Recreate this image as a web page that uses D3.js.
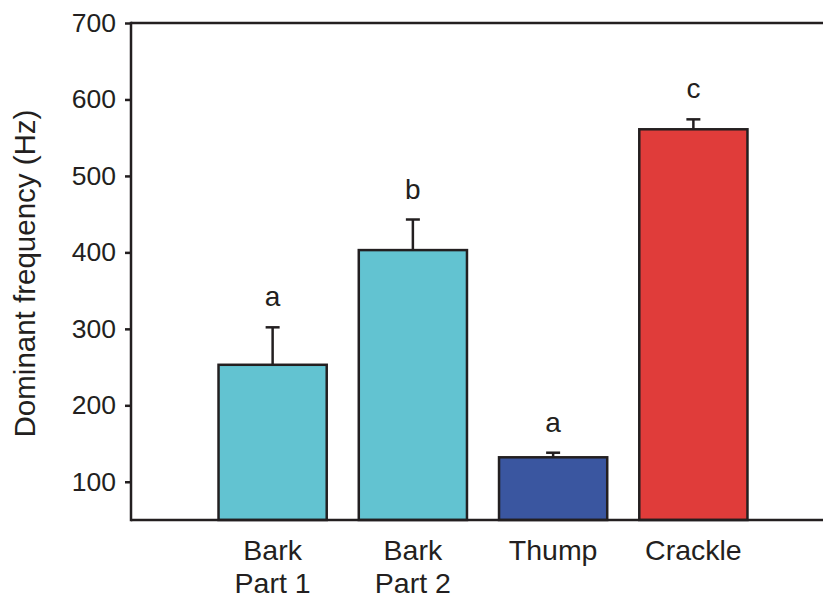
<!DOCTYPE html>
<html>
<head>
<meta charset="utf-8">
<script src="https://cdn.jsdelivr.net/npm/d3@7/dist/d3.min.js"></script>
<style>
  html, body { margin: 0; padding: 0; background: #fff; }
  text { font-family: "Liberation Sans", Arial, sans-serif; fill: #231f20; }
</style>
</head>
<body>
<svg id="chart" width="823" height="600"></svg>
<script>
const categories = ["Bark|Part 1", "Bark|Part 2", "Thump", "Crackle"];
const means = [253, 403, 132, 561];
const errorsUpper = [302, 443, 138, 574];
const groupLetters = ["a", "b", "a", "c"];
const barColors = ["#62c3d1", "#62c3d1", "#3a56a0", "#e03c3a"];
const yTicks = [100, 200, 300, 400, 500, 600, 700];

const svg = d3.select("#chart");
const mLeft = 131, mRight = 823, mTop = 23, mBottom = 520;
const ink = "#231f20";

const y = d3.scaleLinear().domain([50, 700]).range([mBottom, mTop]);
const x = d3.scaleBand().domain(categories).range([202.5, 763.5])
  .paddingInner(0.2286).paddingOuter(0.1143);

// Bars
svg.selectAll("rect.bar").data(categories).enter().append("rect")
  .attr("class", "bar")
  .attr("x", d => x(d))
  .attr("width", x.bandwidth())
  .attr("y", (d, i) => y(means[i]))
  .attr("height", (d, i) => y(50) - y(means[i]))
  .attr("fill", (d, i) => barColors[i])
  .attr("stroke", ink).attr("stroke-width", 2.5);

// Error bars
const capW = 14;
svg.selectAll("line.err").data(categories).enter().append("line")
  .attr("class", "err")
  .attr("x1", d => x(d) + x.bandwidth() / 2)
  .attr("x2", d => x(d) + x.bandwidth() / 2)
  .attr("y1", (d, i) => y(means[i]))
  .attr("y2", (d, i) => y(errorsUpper[i]))
  .attr("stroke", ink).attr("stroke-width", 2.5);
svg.selectAll("line.cap").data(categories).enter().append("line")
  .attr("class", "cap")
  .attr("x1", d => x(d) + x.bandwidth() / 2 - capW / 2)
  .attr("x2", d => x(d) + x.bandwidth() / 2 + capW / 2)
  .attr("y1", (d, i) => y(errorsUpper[i]))
  .attr("y2", (d, i) => y(errorsUpper[i]))
  .attr("stroke", ink).attr("stroke-width", 2.5);

// Group letters
svg.selectAll("text.letter").data(categories).enter().append("text")
  .attr("class", "letter")
  .attr("x", d => x(d) + x.bandwidth() / 2)
  .attr("y", (d, i) => y(errorsUpper[i]) - 21)
  .attr("text-anchor", "middle")
  .attr("font-size", 28)
  .text((d, i) => groupLetters[i]);

// Y axis
const yAxis = d3.axisLeft(y).tickValues(yTicks).tickSize(6).tickPadding(9);
const gy = svg.append("g").attr("transform", `translate(${mLeft},0)`).call(yAxis);
gy.select(".domain").remove();
gy.selectAll(".tick line").attr("stroke", ink).attr("stroke-width", 2.5);
gy.selectAll(".tick text").attr("font-size", 26.5)
  .attr("font-family", "Liberation Sans, Arial, sans-serif").attr("fill", ink);

// Frame lines
svg.append("line").attr("x1", mLeft).attr("x2", mLeft).attr("y1", mTop - 1.25).attr("y2", mBottom + 1.25)
  .attr("stroke", ink).attr("stroke-width", 2.5);
svg.append("line").attr("x1", mLeft).attr("x2", mRight).attr("y1", mTop).attr("y2", mTop)
  .attr("stroke", ink).attr("stroke-width", 2.5);
svg.append("line").attr("x1", mLeft).attr("x2", mRight).attr("y1", mBottom).attr("y2", mBottom)
  .attr("stroke", ink).attr("stroke-width", 2.5);

// X labels
const xl = svg.selectAll("text.xl").data(categories).enter().append("text")
  .attr("class", "xl")
  .attr("text-anchor", "middle")
  .attr("font-size", 28.5)
  .attr("x", d => x(d) + x.bandwidth() / 2)
  .attr("y", 560);
xl.each(function(d) {
  const parts = d.split("|");
  const t = d3.select(this);
  parts.forEach((p, k) => {
    t.append("tspan").attr("x", x(d) + x.bandwidth() / 2).attr("dy", k === 0 ? 0 : 33).text(p);
  });
});

// Y title
svg.append("text")
  .attr("transform", `translate(35,273.5) rotate(-90)`)
  .attr("text-anchor", "middle")
  .attr("font-size", 29.5)
  .text("Dominant frequency (Hz)");
</script>
</body>
</html>
